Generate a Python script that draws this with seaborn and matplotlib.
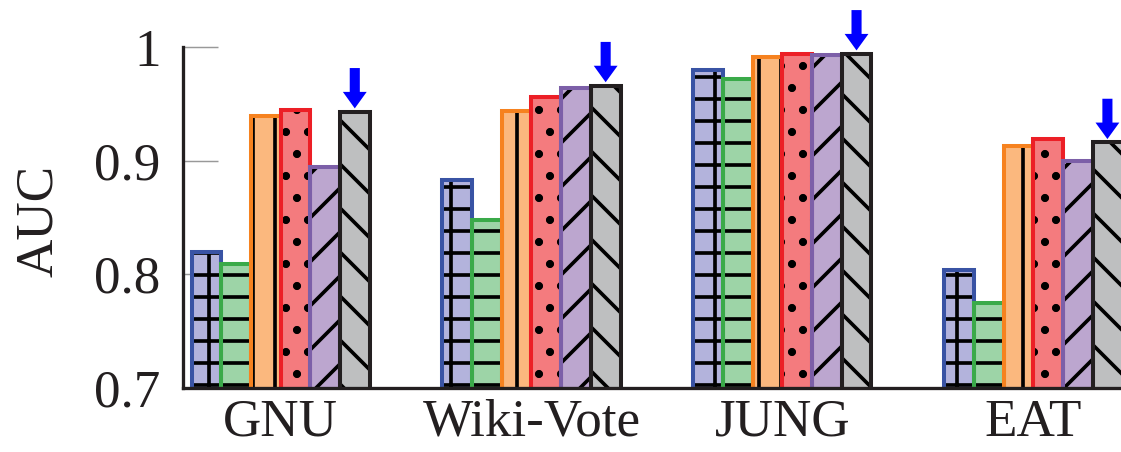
import pandas as pd
import matplotlib.pyplot as plt
import seaborn as sns

datasets = ["GNU", "Wiki-Vote", "JUNG", "EAT"]
methods = ["M1", "M2", "M3", "M4", "M5", "M6"]

auc_m1 = [0.820, 0.883, 0.980, 0.804]
auc_m2 = [0.809, 0.848, 0.972, 0.775]
auc_m3 = [0.939, 0.944, 0.991, 0.913]
auc_m4 = [0.945, 0.956, 0.994, 0.919]
auc_m5 = [0.894, 0.964, 0.993, 0.900]
auc_m6 = [0.943, 0.966, 0.994, 0.916]

fills = ["#b3b3dc", "#9dd4a7", "#fbb87e", "#f47b7e", "#bca6cf", "#bebfc0"]
edges = ["#3953a4", "#3aaa49", "#f6821f", "#ec1f26", "#7c5fa8", "#231f20"]
hatches = ["+", "-", "|", ".", "/", "\\"]

rows = []
for m, vals in zip(methods, [auc_m1, auc_m2, auc_m3, auc_m4, auc_m5, auc_m6]):
    for d, v in zip(datasets, vals):
        rows.append({"dataset": d, "method": m, "auc": v})
df = pd.DataFrame(rows)

sns.set_style("white")
plt.rcParams["font.family"] = ["Liberation Serif", "DejaVu Serif"]
plt.rcParams["hatch.linewidth"] = 2.0
plt.rcParams["hatch.color"] = "black"

fig = plt.figure(figsize=(1121 / 132, 452 / 132), dpi=132)
ax = fig.add_axes([0.163, 0.1416, 0.837, 0.7544])

# filled, hatched bars (black hatch, no edge)
sns.barplot(data=df, x="dataset", y="auc", hue="method", palette=fills,
            saturation=1, width=0.71, linewidth=0, edgecolor="black",
            legend=False, ax=ax)
for cont, h in zip(ax.containers, hatches):
    for p in cont:
        p.set_hatch(h)
        p.set_linewidth(0)

# coloured outlines on top
sns.barplot(data=df, x="dataset", y="auc", hue="method", palette=edges,
            saturation=1, width=0.71, fill=False, linewidth=2.2,
            legend=False, ax=ax)

# blue arrows above the last method
for p in ax.containers[5]:
    ax.annotate("", xy=(p.get_x() + p.get_width() / 2, p.get_height() + 0.003),
                xytext=(0, 22), textcoords="offset points",
                arrowprops=dict(facecolor="#0000ff", edgecolor="none",
                                width=5.5, headwidth=13, headlength=9, shrink=0),
                annotation_clip=False)

ax.set_ylim(0.7, 1.0)
ax.set_xlim(-0.39, 3.35)
ax.set_yticks([0.7, 0.8, 0.9, 1.0])
ax.set_yticklabels(["0.7", "0.8", "0.9", "1"])
ax.set_xlabel("")
ax.set_ylabel("AUC", fontsize=29, color="#231f20")
ax.yaxis.set_label_coords(-0.128, 0.49)

ax.tick_params(axis="y", left=True, direction="in", length=19, width=0.8,
               color="#999999", labelsize=29, labelcolor="#231f20", pad=12)
ax.tick_params(axis="x", bottom=False, length=0, labelsize=29,
               labelcolor="#231f20", pad=6)

sns.despine(ax=ax)
for s in ["left", "bottom"]:
    ax.spines[s].set_color("#231f20")
    ax.spines[s].set_linewidth(1.8)

fig.savefig("out.png", dpi=132)
